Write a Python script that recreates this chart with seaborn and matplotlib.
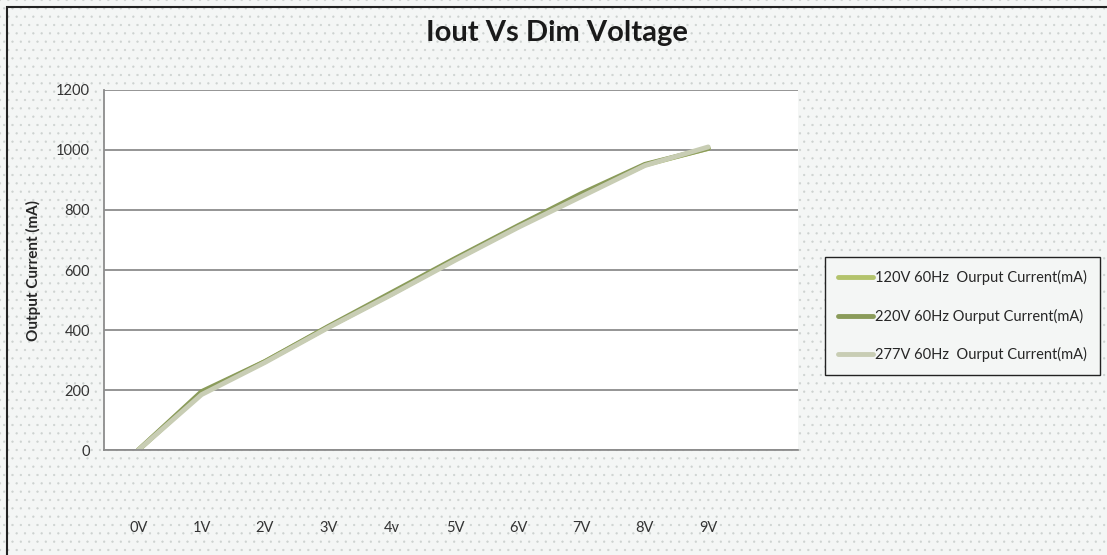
import matplotlib.pyplot as plt
import matplotlib.patches as mpatches
import seaborn as sns
import pandas as pd

# valores
voltages = ["0V", "1V", "2V", "3V", "4v", "5V", "6V", "7V", "8V", "9V"]
i_120 = [0, 190, 295, 410, 520, 635, 745, 850, 950, 1005]
i_220 = [0, 195, 295, 412, 525, 638, 748, 855, 952, 1005]
i_277 = [0, 185, 292, 408, 518, 632, 742, 845, 948, 1010]

series = ["120V 60Hz  Ourput Current(mA)",
          "220V 60Hz Ourput Current(mA)",
          "277V 60Hz  Ourput Current(mA)"]
cores = {series[0]: "#b3c36c", series[1]: "#8a9b5a", series[2]: "#c8cdb4"}

df = pd.DataFrame({
    "pos": list(range(len(voltages))) * 3,
    "corrente": i_120 + i_220 + i_277,
    "serie": [series[0]] * 10 + [series[1]] * 10 + [series[2]] * 10,
})

sns.set_style("white")
plt.rcParams['font.family'] = ['Lato', 'DejaVu Sans']
plt.rcParams['hatch.linewidth'] = 0.4

fig = plt.figure(figsize=(11.07, 5.55), dpi=100)
fig.patch.set_facecolor("#f4f6f5")

# fundo pontilhado (hatch usa a cor da borda)
pontos = mpatches.Rectangle((0, 0), 1, 1, transform=fig.transFigure,
                            facecolor="#f4f6f5", edgecolor="#cdd2d0",
                            linewidth=0, hatch="..", zorder=-11)
fig.patches.append(pontos)
# borda externa
borda = mpatches.Rectangle((0.006, -0.05), 1.1, 1.037, transform=fig.transFigure,
                           fill=False, edgecolor="#222222", linewidth=1.5,
                           zorder=-10)
fig.patches.append(borda)

ax = fig.add_axes([0.094, 0.189, 0.627, 0.649])
ax.set_facecolor("white")

sns.lineplot(data=df, x="pos", y="corrente", hue="serie", palette=cores,
             linewidth=3.5, ax=ax, legend=True)

ax.set_xlim(-0.54, 10.42)
ax.set_ylim(0, 1200)
ax.set_yticks(range(0, 1201, 200))
ax.yaxis.grid(True, color="#8c8c8c", linewidth=1.3)
ax.set_axisbelow(True)
for lado in ["top", "right"]:
    ax.spines[lado].set_visible(False)
ax.spines["left"].set_color("#8c8c8c")
ax.spines["left"].set_linewidth(1.3)
ax.spines["bottom"].set_color("#8c8c8c")
ax.spines["bottom"].set_linewidth(1.3)

ax.set_xticks(range(len(voltages)))
ax.set_xticklabels(voltages, fontsize=10.5, color="#333333")
ax.tick_params(axis="x", length=0, pad=51)
ax.tick_params(axis="y", length=0, pad=10, labelsize=10.5, labelcolor="#333333")

ax.set_xlabel("")
ax.set_ylabel("Output Current (mA)", fontsize=11, fontweight="bold", labelpad=11)

fig.text(0.503, 0.94, "Iout Vs Dim Voltage", ha="center", va="center",
         fontsize=21, fontweight="bold", color="#1a1a1a")

handles, labels = ax.get_legend_handles_labels()
ax.legend(handles, labels, loc="center left", bbox_to_anchor=(0.739, 0.43),
          bbox_transform=fig.transFigure, frameon=True, fontsize=10.5,
          handlelength=2.4, handletextpad=0.1, labelspacing=1.6,
          borderpad=0.9, fancybox=False, edgecolor="#222222",
          facecolor="#f4f6f5", framealpha=1)
ax.get_legend().get_frame().set_linewidth(1.0)

plt.savefig("out.png", dpi=100, facecolor=fig.get_facecolor())
plt.close()
